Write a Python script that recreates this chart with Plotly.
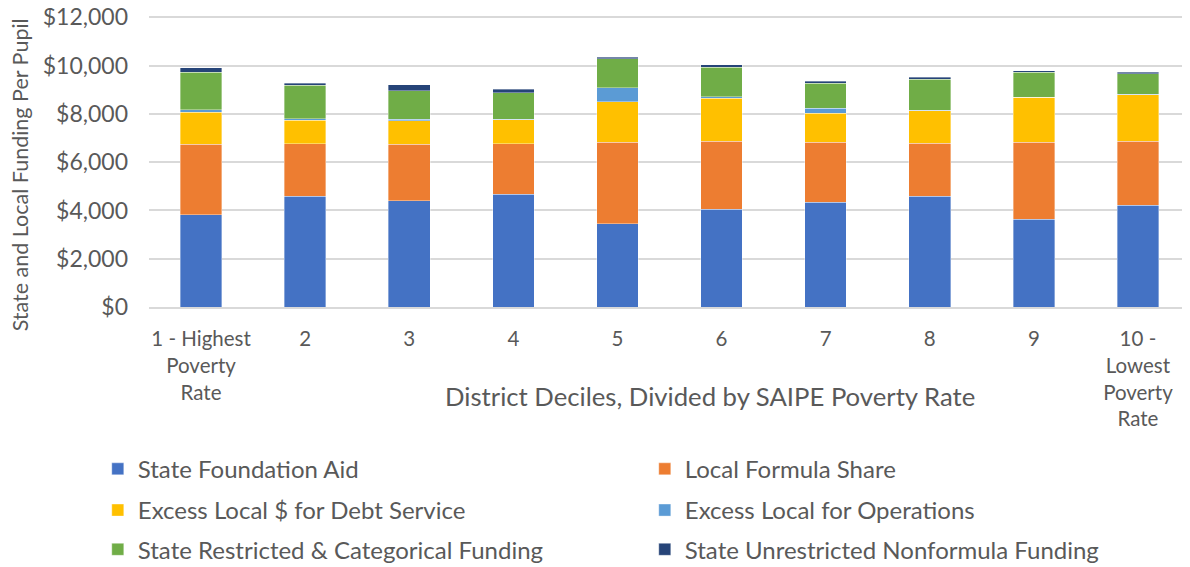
import plotly.graph_objects as go

categories = ["1 - Highest<br>Poverty<br>Rate", "2", "3", "4", "5", "6", "7", "8", "9",
              "10 -<br>Lowest<br>Poverty<br>Rate"]

state_foundation_aid = [3820, 4580, 4410, 4670, 3445, 4050, 4340, 4590, 3635, 4215]
local_formula_share = [2930, 2195, 2335, 2105, 3385, 2810, 2490, 2200, 3195, 2655]
excess_local_debt = [1315, 965, 970, 985, 1675, 1795, 1200, 1345, 1855, 1925]
excess_local_operations = [110, 60, 65, 20, 580, 60, 210, 20, 15, 15]
state_restricted_categorical = [1560, 1395, 1190, 1100, 1205, 1230, 1035, 1280, 1020, 855]
state_unrestricted_nonformula = [185, 85, 235, 140, 65, 85, 85, 80, 70, 65]

y_tick_values = [0, 2000, 4000, 6000, 8000, 10000, 12000]
y_tick_labels = ["$0", "$2,000", "$4,000", "$6,000", "$8,000", "$10,000", "$12,000"]

series = [
    ("State Foundation Aid", state_foundation_aid, "#4472C4", "legend"),
    ("Local Formula Share", local_formula_share, "#ED7D31", "legend"),
    ("Excess Local $ for Debt Service", excess_local_debt, "#FFC000", "legend2"),
    ("Excess Local for Operations", excess_local_operations, "#5B9BD5", "legend2"),
    ("State Restricted & Categorical Funding", state_restricted_categorical, "#70AD47", "legend3"),
    ("State Unrestricted Nonformula Funding", state_unrestricted_nonformula, "#264478", "legend3"),
]

FONT = "Lato"
GREY = "#595959"

fig = go.Figure()
for name, vals, color, leg in series:
    fig.add_trace(go.Bar(
        x=categories, y=vals, name=name, legend=leg,
        marker=dict(color=color, line=dict(color="rgba(255,255,255,0.6)", width=0.6)),
    ))

LEG_X = -0.0492
def legend_cfg(y):
    return dict(
        orientation="h",
        x=LEG_X, xanchor="left",
        y=y, yanchor="middle",
        entrywidth=502, entrywidthmode="pixels",
        itemwidth=30,
        font=dict(size=24, color=GREY, family=FONT),
        traceorder="normal",
        bgcolor="rgba(0,0,0,0)",
    )

# plot height = 559 - 7 - 259.7 = 292.3 px
fig.update_layout(
    barmode="stack",
    bargap=0.6,
    width=1182, height=559,
    margin=dict(l=141, r=0, t=7, b=259.7, autoexpand=False),
    plot_bgcolor="white", paper_bgcolor="white",
    font=dict(family=FONT, color=GREY),
    xaxis=dict(
        tickfont=dict(size=20.5, color=GREY, family=FONT),
        showline=True, linecolor="#d9d9d9", linewidth=1.5,
        ticks="", automargin=False,
        ticklabelstandoff=13,
    ),
    yaxis=dict(
        range=[0, 12100],
        tickmode="array", tickvals=y_tick_values, ticktext=y_tick_labels,
        tickfont=dict(size=23, color=GREY, family=FONT),
        gridcolor="#d9d9d9", gridwidth=1.5,
        zeroline=False, automargin=False,
        ticklabelstandoff=20,
        ticklabeloverflow="allow",
    ),
    legend=legend_cfg(-0.5556),
    legend2=legend_cfg(-0.6968),
    legend3=legend_cfg(-0.8312),
    annotations=[
        dict(
            text="District Deciles, Divided by SAIPE Poverty Rate",
            xref="paper", yref="paper", x=0.539, y=-0.306,
            xanchor="center", yanchor="middle", showarrow=False,
            font=dict(size=25.7, color=GREY, family=FONT),
        ),
        dict(
            text="State and Local Funding Per Pupil",
            xref="paper", yref="paper", x=-0.1239, y=0.451,
            xanchor="center", yanchor="middle", showarrow=False,
            textangle=-90,
            font=dict(size=21.5, color=GREY, family=FONT),
        ),
    ],
)

fig.write_html("out.html")
